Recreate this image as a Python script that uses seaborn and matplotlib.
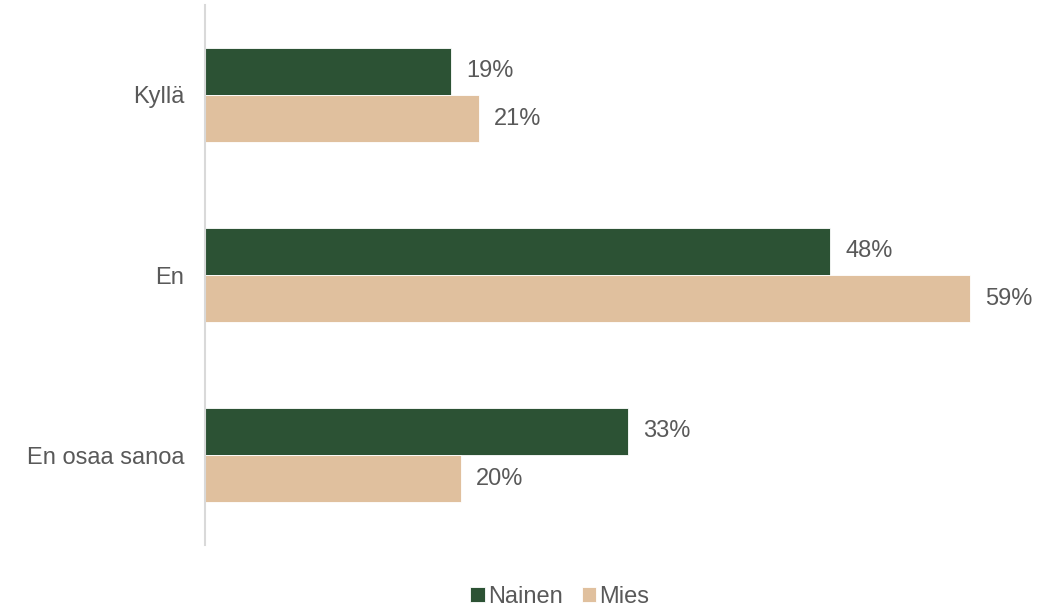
import matplotlib
matplotlib.use("Agg")
import matplotlib.pyplot as plt
import seaborn as sns
import pandas as pd

# Data (labels shown rounded)
categories = ["Kyllä", "En", "En osaa sanoa"]
nainen = [19.0, 48.2, 32.6]
mies = [21.1, 59.0, 19.7]
series_names = ["Nainen", "Mies"]
colors = ["#2C5234", "#E0C09E"]

df = pd.DataFrame({
    "kategoria": categories * 2,
    "arvo": nainen + mies,
    "sukupuoli": [series_names[0]] * 3 + [series_names[1]] * 3,
})

sns.set_style("white")
plt.rcParams["font.family"] = ["Liberation Sans", "DejaVu Sans"]
text_color = "#595959"

fig = plt.figure(figsize=(10.59, 6.10), dpi=100)
ax = fig.add_axes([205 / 1059, 1 - 545 / 610, 835 / 1059, 540 / 610])

sns.barplot(data=df, x="arvo", y="kategoria", hue="sukupuoli", orient="h",
            palette=colors, width=0.525, ax=ax, saturation=1,
            edgecolor="white", linewidth=0.6)

ax.set_xlim(0, 835 / 12.97)
ax.set_xlabel("")
ax.set_ylabel("")
ax.set_xticks([])
ax.tick_params(axis="y", length=0, pad=15, labelsize=17, labelcolor=text_color)

for s in ["top", "right", "bottom"]:
    ax.spines[s].set_visible(False)
ax.spines["left"].set_color("#D9D9D9")
ax.spines["left"].set_linewidth(1.5)

for cont in ax.containers:
    ax.bar_label(cont, labels=[f"{v:.0f}%" for v in cont.datavalues],
                 padding=11, fontsize=17, color=text_color)

sns.move_legend(ax, "center", bbox_to_anchor=(560 / 1059, 1 - 597 / 610),
                bbox_transform=fig.transFigure, ncol=2, frameon=False,
                title=None, fontsize=17, handlelength=0.6, handleheight=0.6,
                handletextpad=0.15, columnspacing=0.8, labelcolor=text_color)

fig.savefig("out.png", dpi=100)
